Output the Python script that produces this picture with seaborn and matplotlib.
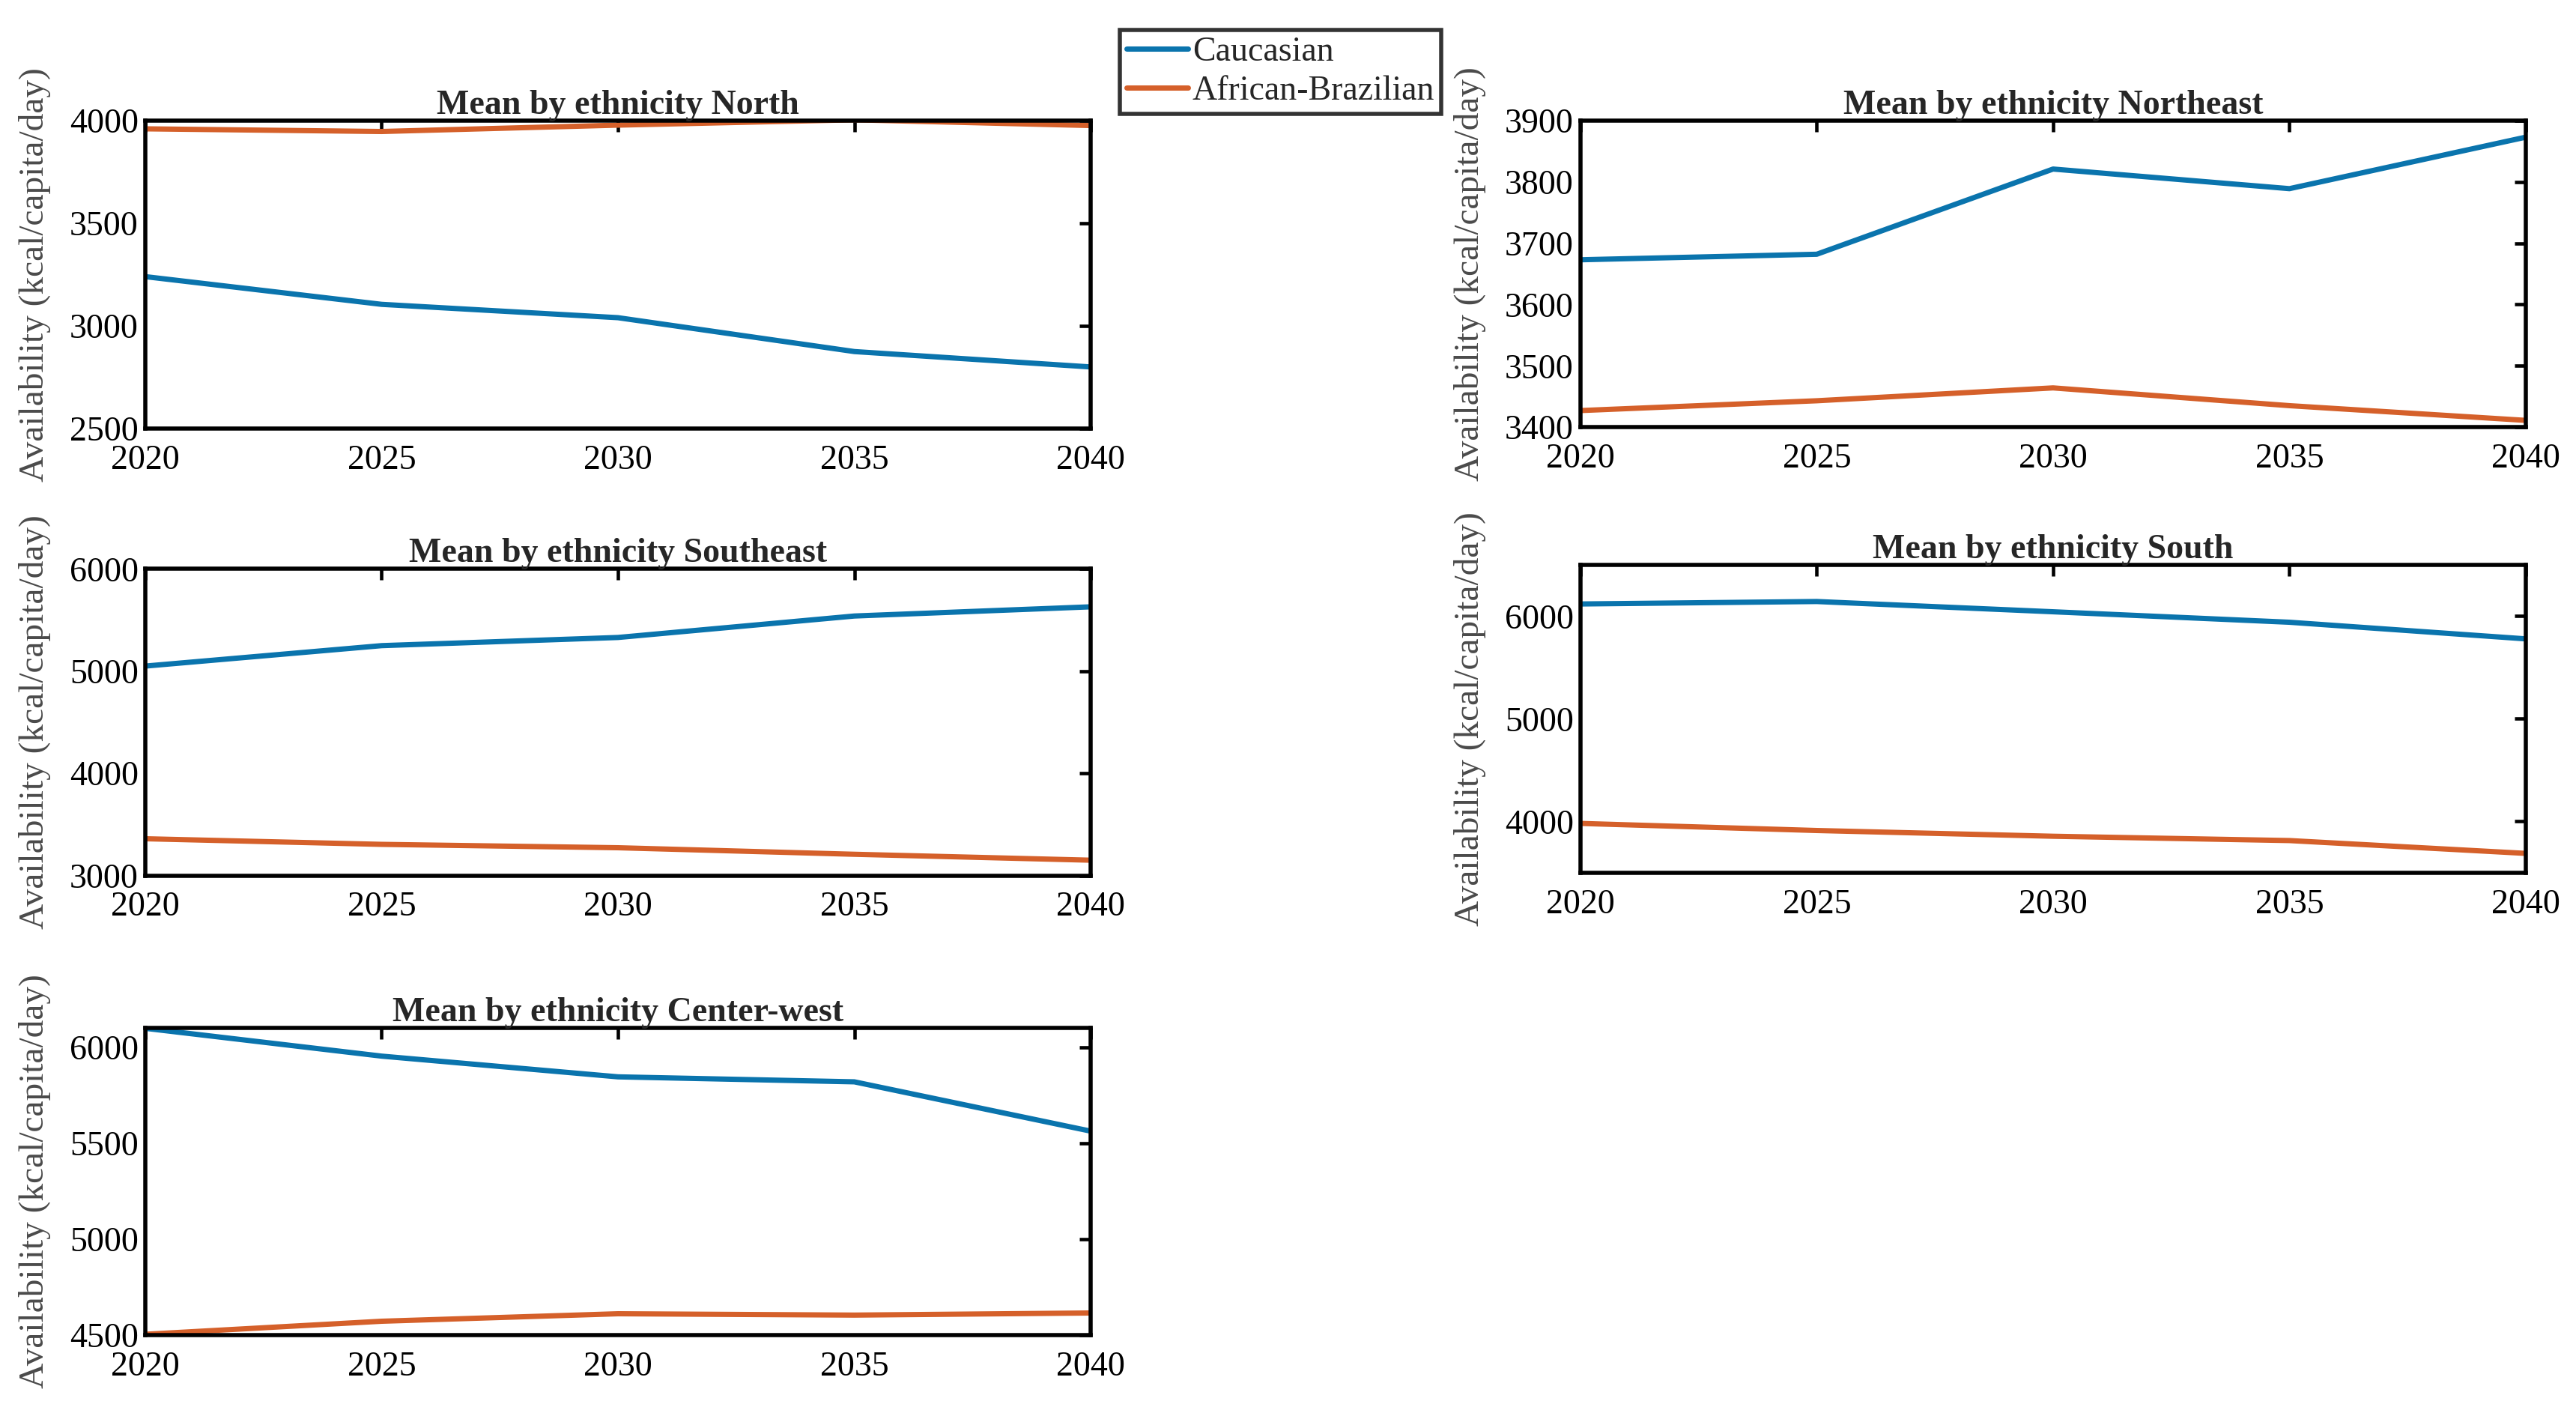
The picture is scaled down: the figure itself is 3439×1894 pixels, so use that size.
import numpy as np
import pandas as pd
import matplotlib.pyplot as plt
import seaborn as sns

# values
years = [2020, 2025, 2030, 2035, 2040]
groups = ["Caucasian", "African-Brazilian"]
regions = ["North", "Northeast", "Southeast", "South", "Center-west"]

north_caucasian = [3240, 3105, 3040, 2875, 2800]
north_african = [3960, 3947, 3978, 4004, 3976]

northeast_caucasian = [3673, 3682, 3821, 3789, 3873]
northeast_african = [3427, 3443, 3464, 3435, 3411]

southeast_caucasian = [5050, 5250, 5330, 5540, 5630]
southeast_african = [3360, 3305, 3272, 3208, 3150]

south_caucasian = [6118, 6142, 6042, 5940, 5778]
south_african = [3980, 3911, 3855, 3813, 3688]

centerwest_caucasian = [6098, 5953, 5845, 5819, 5562]
centerwest_african = [4503, 4571, 4610, 4603, 4614]

ylims = {"North": (2500, 4000), "Northeast": (3400, 3900), "Southeast": (3000, 6000),
         "South": (3500, 6500), "Center-west": (4500, 6100)}
yticks = {"North": [2500, 3000, 3500, 4000],
          "Northeast": [3400, 3500, 3600, 3700, 3800, 3900],
          "Southeast": [3000, 4000, 5000, 6000],
          "South": [4000, 5000, 6000],
          "Center-west": [4500, 5000, 5500, 6000]}

series = {
    "North": (north_caucasian, north_african),
    "Northeast": (northeast_caucasian, northeast_african),
    "Southeast": (southeast_caucasian, southeast_african),
    "South": (south_caucasian, south_african),
    "Center-west": (centerwest_caucasian, centerwest_african),
}

rows = []
for reg in regions:
    for grp, vals in zip(groups, series[reg]):
        for yr, v in zip(years, vals):
            rows.append({"region": reg, "group": grp, "year": yr, "value": v})
df = pd.DataFrame(rows)

sns.set_theme(style="white")
plt.rcParams['font.family'] = ['Liberation Serif', 'DejaVu Serif']

palette = {"Caucasian": "#0A74AD", "African-Brazilian": "#D5602A"}

fig = plt.figure(figsize=(3439 / 220, 1894 / 220), dpi=220)

# axes rectangles in figure fraction [left, bottom, width, height]
rects = {
    "North": [0.0564, 0.698, 0.367, 0.217],
    "Northeast": [0.6135, 0.699, 0.367, 0.216],
    "Southeast": [0.0564, 0.383, 0.367, 0.216],
    "South": [0.6135, 0.385, 0.367, 0.217],
    "Center-west": [0.0564, 0.0593, 0.367, 0.2163],
}

for reg in regions:
    ax = fig.add_axes(rects[reg])
    sns.lineplot(data=df[df.region == reg], x="year", y="value", hue="group",
                 hue_order=groups, palette=palette, linewidth=2.3, legend=False, ax=ax)
    ax.set_xlim(2020, 2040)
    ax.set_ylim(*ylims[reg])
    ax.set_xticks(years)
    ax.set_yticks(yticks[reg])
    ax.tick_params(direction="in", top=True, right=True, length=5, width=1.5,
                   labelsize=15, colors="black", pad=3)
    ax.tick_params(axis="x", pad=7)
    for sp in ax.spines.values():
        sp.set_color("black")
        sp.set_linewidth(1.8)
    ax.set_xlabel("")
    ax.set_ylabel("Availability (kcal/capita/day)", fontsize=15.5, color="#4a4a4a")
    ax.yaxis.set_label_coords(-0.1, 0.5)
    ax.set_title(f"Mean by ethnicity {reg}", fontsize=15, fontweight="bold", pad=3)
    if reg == "North":
        handles = ax.get_lines()[:2]

leg = fig.legend(handles, groups, loc="upper left", bbox_to_anchor=(0.4346, 0.979),
                 fontsize=15, frameon=True, fancybox=False, handlelength=1.8,
                 handletextpad=0.12, borderpad=0.2, labelspacing=0.2, borderaxespad=0)
leg.get_frame().set_edgecolor("black")
leg.get_frame().set_linewidth(1.8)

fig.savefig("out.png", dpi=220)
